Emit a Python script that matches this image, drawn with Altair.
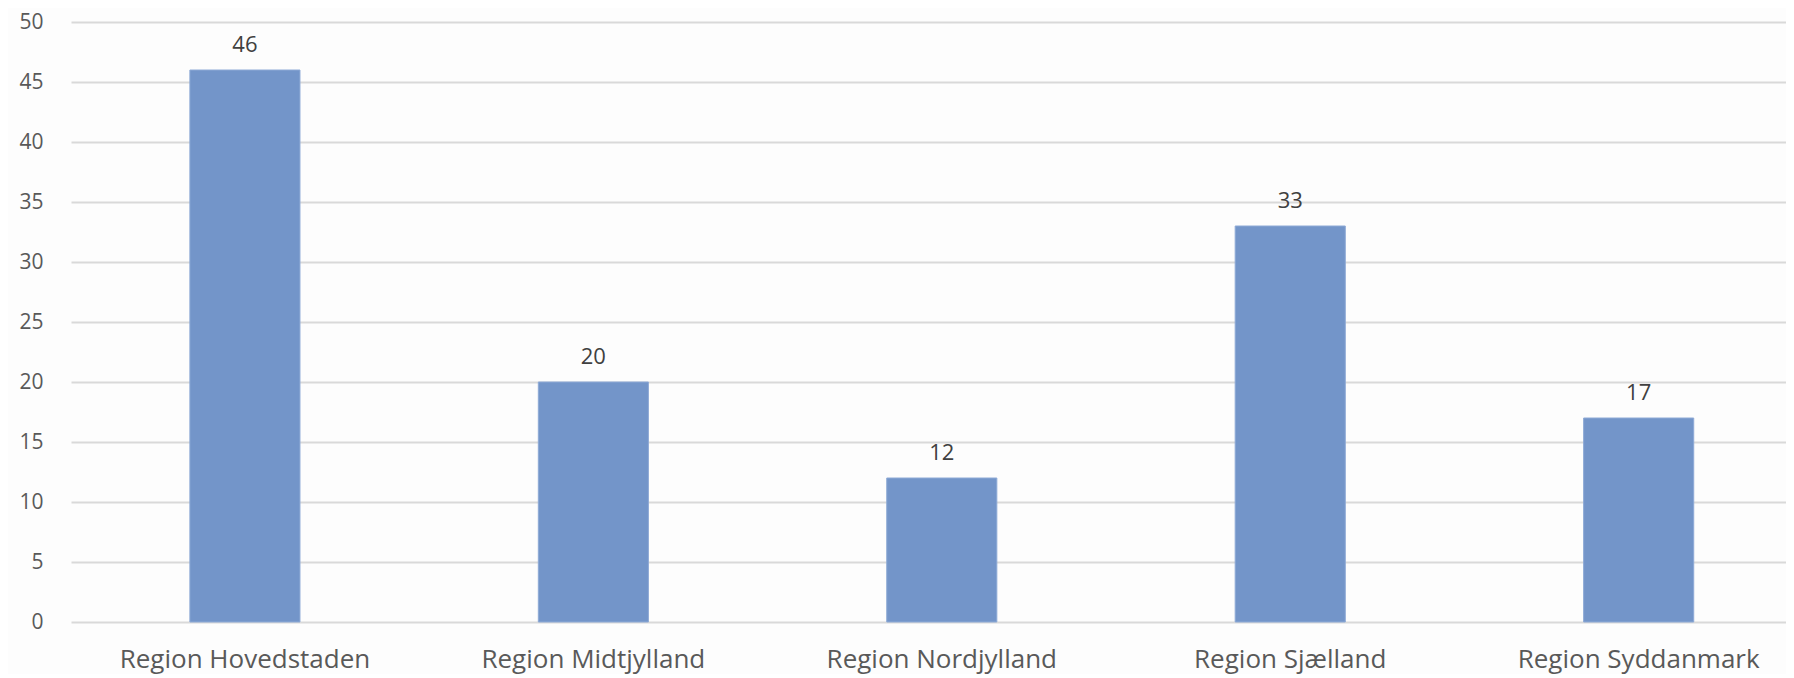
import altair as alt
import pandas as pd

regions = ["Region Hovedstaden", "Region Midtjylland", "Region Nordjylland", "Region Sjælland", "Region Syddanmark"]
values = [46, 20, 12, 33, 17]

df = pd.DataFrame({"region": regions, "value": values})

FONT = "Open Sans"

base = alt.Chart(df).encode(
    x=alt.X("region:N", sort=regions, title=None,
            scale=alt.Scale(paddingInner=0.684, paddingOuter=0.303, align=0.563),
            axis=alt.Axis(labelAngle=0, labelFontSize=26, labelColor="#595959", labelFont=FONT,
                          labelPadding=24, labelLimit=0, ticks=False, domain=False, grid=False)),
    y=alt.Y("value:Q", title=None,
            scale=alt.Scale(domain=[0, 50], nice=False),
            axis=alt.Axis(values=list(range(0, 51, 5)), labelFontSize=21, labelColor="#595959",
                          labelFont=FONT, labelPadding=28, ticks=False, domain=False,
                          grid=True, gridColor="#d9d9d9", gridWidth=2)),
)

bars = base.mark_bar(color="#7395c9", stroke="#8eaad6", strokeWidth=1)
labels = base.mark_text(dy=-13, baseline="bottom", fontSize=22, color="#404040", font=FONT).encode(
    text="value:Q")

chart = (bars + labels).properties(
    width=1715, height=600,
    autosize=alt.AutoSizeParams(type="none"),
    padding={"left": 63, "top": 14, "right": 0, "bottom": 52},
    background="#fdfdfd",
).configure_view(stroke=None)

chart.save("out.html", embed_options={"renderer": "svg", "actions": False})
